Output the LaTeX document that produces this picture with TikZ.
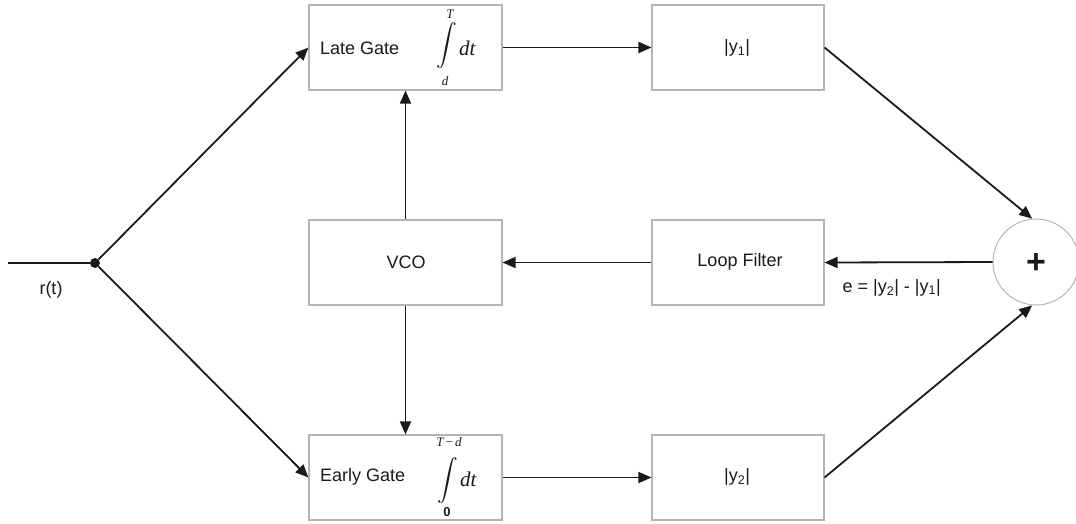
\documentclass[tikz,border=0pt]{standalone}
\usepackage{exscale}
\usepackage{fontspec}
\setmainfont{Liberation Sans}
\newfontfamily\tms{Liberation Serif}
\usetikzlibrary{arrows.meta}
\definecolor{boxgray}{HTML}{B4B4B4}
\definecolor{ink}{HTML}{1A1A1A}
\tikzset{
  gbox/.style={draw=boxgray, line width=1.1pt, fill=white, inner sep=0pt,
               minimum width=#1, minimum height=85pt},
  gbox/.default=193pt,
  lbl/.style={text=ink, inner sep=0pt, font=\fontsize{18}{20}\selectfont},
  lim/.style={text=ink, inner sep=0pt, font=\fontsize{13}{14}\selectfont\tms\itshape},
  intdt/.style={anchor=west, inner sep=0pt, text=ink, font=\fontsize{21}{22}\selectfont\tms\itshape},
  wire/.style={draw=ink, line width=1.8pt},
  flow/.style={wire, -{Triangle[length=13pt,width=11pt]}},
}
\newcommand{\intsign}[1]{{\fontsize{#1}{#1}\selectfont$\displaystyle\int$}}
\begin{document}
\begin{tikzpicture}[x=1pt,y=-1pt]
\useasboundingbox (0,0) rectangle (1076,523);

% blocks
\node[gbox] (late)  at (405.5,47.5)  {};
\node[gbox] (vco)   at (405.5,262.5) {};
\node[gbox] (early) at (405.5,477.5) {};
\node[gbox=172pt] (abs1)  at (738,47.5)  {};
\node[gbox=172pt] (loop)  at (738,262.5) {};
\node[gbox=172pt] (abs2)  at (738,477.5) {};
\node[circle, draw=boxgray, line width=1pt, minimum size=86pt, inner sep=0pt] (sum) at (1036,262) {};

% block texts
\node[lbl, anchor=west] (latetxt) at (320,48) {Late Gate};
\node[inner sep=0pt, text=ink] (lateint) at (447,46) {\intsign{22}};
\node[lim] (lateup) at (450,14) {T};
\node[lim] (latelo) at (445,81) {d};
\node[intdt] (latedt) at (459,48) {dt};

\node[lbl, anchor=west] (earlytxt) at (320,477) {Early Gate};
\node[inner sep=0pt, text=ink] (earlyint) at (448,481) {\intsign{20}};
\node[lim] (earlyup) at (449,442) {T\,{\upshape−}\,d};
\node[text=ink, inner sep=0pt, font=\fontsize{13}{14}\selectfont\bfseries] (earlylo) at (447,512) {0};
\node[intdt] (earlydt) at (460,479) {dt};

\node[lbl] (vcotxt) at (406,262) {VCO};
\node[lbl] (looptxt) at (740,262) {Loop Filter};
\node[lbl] (abs1txt) at (737,48) {|y\textsubscript{1}|};
\node[lbl] (abs2txt) at (737,477) {|y\textsubscript{2}|};
\node[text=ink, inner sep=0pt, font=\fontsize{34}{34}\selectfont\bfseries] (plus) at (1036,264) {+};

% input and branching point
\coordinate (in) at (8,263);
\node[circle, fill=ink, minimum size=10pt, inner sep=0pt] (split) at (95,263) {};
\draw[wire] (in) -- (split);
\node[lbl] (rt) at (51,290) {r(t)};

% signal flow
\draw[flow] (split) -- (late.west);
\draw[flow] (split) -- (early.west);
\draw[flow] (late.east) -- (abs1.west);
\draw[flow] (early.east) -- (abs2.west);
\draw[flow] (abs1.east) -- (sum.95);
\draw[flow] (abs2.east) -- (sum.265);
\draw[flow] (sum.west) -- (loop.east)
  node[lbl, pos=0.6, below=16pt] (err) {e = |y\textsubscript{2}| - |y\textsubscript{1}|};
\draw[flow] (loop.west) -- (vco.east);
\draw[flow] (vco.north) -- (late.south);
\draw[flow] (vco.south) -- (early.north);
\end{tikzpicture}
\end{document}
